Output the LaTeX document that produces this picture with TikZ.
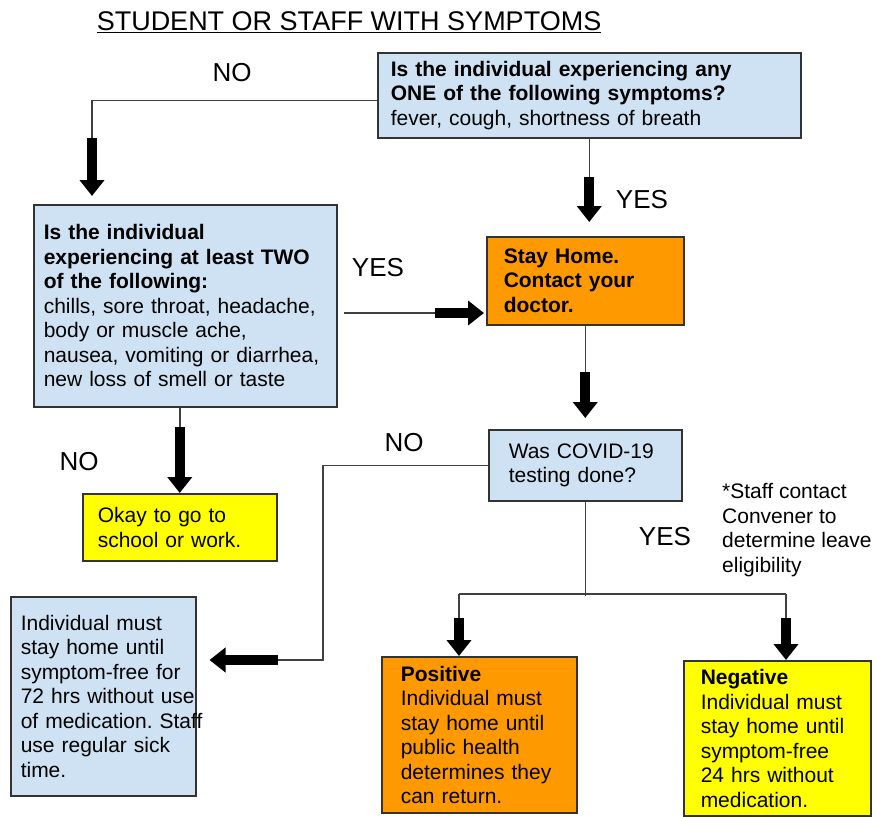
\documentclass[tikz,border=0pt]{standalone}
\usepackage{fontspec}
\setmainfont{Liberation Sans}
\usetikzlibrary{arrows.meta}
\definecolor{qblue}{HTML}{CFE2F3}
\definecolor{qorange}{HTML}{FF9900}
\definecolor{qyellow}{HTML}{FFFF00}
\newcommand{\bxfont}{\fontsize{21}{24.5}\selectfont}
\newcommand{\lblfont}{\fontsize{26}{28}\selectfont}
\hfuzz=60pt
\frenchspacing

\begin{document}
\begin{tikzpicture}[x=1pt,y=-1pt,
bx/.style n args={4}{draw=black!80,line width=1.5pt,fill=#1,text width=#2,minimum height=#3,inner xsep=#4,inner ysep=0pt,align=left,anchor=north west,font=\bxfont},
ln/.style={draw=black!75,line width=1.5pt},
fat/.style={line width=10pt,-{Triangle[length=16pt,width=24pt]}},
lbl/.style={font=\lblfont,inner sep=0pt}]
\fill[white] (0,0) rectangle (876,817);
\useasboundingbox (0,0) rectangle (876,817);
\node[lbl,font=\fontsize{27}{29}\selectfont] (title) at (349,22) {\underline{STUDENT OR STAFF WITH SYMPTOMS}};
\node[bx={qblue}{397pt}{85pt}{13pt}] (q1) at (377,52)
   {\textbf{Is the individual experiencing any}\\\textbf{ONE of the following symptoms?}\\fever, cough, shortness of breath};
\node[bx={qblue}{283pt}{202pt}{10pt}] (q2) at (33,204)
   {\textbf{Is the individual}\\\textbf{experiencing at least TWO}\\\textbf{of the following:}\\chills, sore throat, headache,\\body or muscle ache,\\nausea, vomiting or diarrhea,\\new loss of smell or taste};
\node[bx={qorange}{163pt}{88pt}{17pt}] (stay) at (486,236)
   {\textbf{Stay Home.}\\\textbf{Contact your}\\\textbf{doctor.}};
\node[bx={qblue}{153pt}{71pt}{20pt}] (test) at (488,429)
   {Was COVID-19\\testing done?};
\node[bx={qyellow}{164pt}{67pt}{15pt}] (okay) at (82,493)
   {Okay to go to\\school or work.};
\node[bx={qblue}{165pt}{199pt}{10pt}] (home) at (10,596)
   {Individual must\\stay home until\\symptom-free for\\\mbox{72 hrs without use}\\\mbox{of medication. Staff}\\use regular sick\\time.};
\node[bx={qorange}{157pt}{156pt}{19pt}] (pos) at (381,656)
   {\textbf{Positive}\\Individual must\\stay home until\\public health\\determines they\\can return.};
\node[bx={qyellow}{153pt}{155pt}{17pt}] (neg) at (683,660)
   {\textbf{Negative}\\Individual must\\stay home until\\symptom-free\\24 hrs without\\medication.};
\node[font=\bxfont,align=left,anchor=west,inner sep=0pt] (note) at (722,530)
   {*Staff contact\\Convener to\\determine leave\\eligibility};
\foreach \n/\x/\y/\t in %
{no1/232/73/NO,yes1/642/200/YES,yes2/378/268/YES,no2/404/443/NO,no3/79/462/NO,yes3/665/537/YES} {
   \node[lbl] (\n) at (\x,\y) {\t};
}
% connectors
\coordinate (n1) at (92,138);
\draw[ln] ([yshift=-5pt]q1.west) -| (n1);
\draw[fat,shorten >=8pt] (n1) -- (n1 |- q2.north);
\draw[ln] (q1.south) -- ++(0,38) coordinate (n2);
\draw[fat,shorten >=14pt] (n2) -- (n2 |- stay.north);
\coordinate (n3) at (435,313);
\draw[ln,shorten <=6pt] (n3 -| q2.east) -- (n3);
\draw[fat,shorten >=2pt] (n3) -- (n3 -| stay.west);
\draw[ln] (stay.south) -- ++(0,46) coordinate (n4);
\draw[fat,shorten >=11pt] (n4) -- (n4 |- test.north);
\draw[ln] (okay.north |- q2.south) -- ++(0,19) coordinate (n5);
\draw[fat] (n5) -- (okay.north);
\coordinate (n6) at (278,660);
\draw[ln] (test.west) -- ++(-165,0) |- (n6);
\draw[fat,shorten >=13pt] (n6) -- (n6 -| home.east);
\draw[ln] (test.south) -- ++(0,94) coordinate (n7);
\coordinate (n8) at (459,594);
\coordinate (n9) at (786,594);
\draw[ln] (n8) -- (n9);
\foreach \c/\t in {n8/pos,n9/neg} {
   \draw[ln] (\c) -- ++(0,24) coordinate (f\t);
   \draw[fat] (f\t) -- (f\t |- \t.north);
}
\end{tikzpicture}
\end{document}
